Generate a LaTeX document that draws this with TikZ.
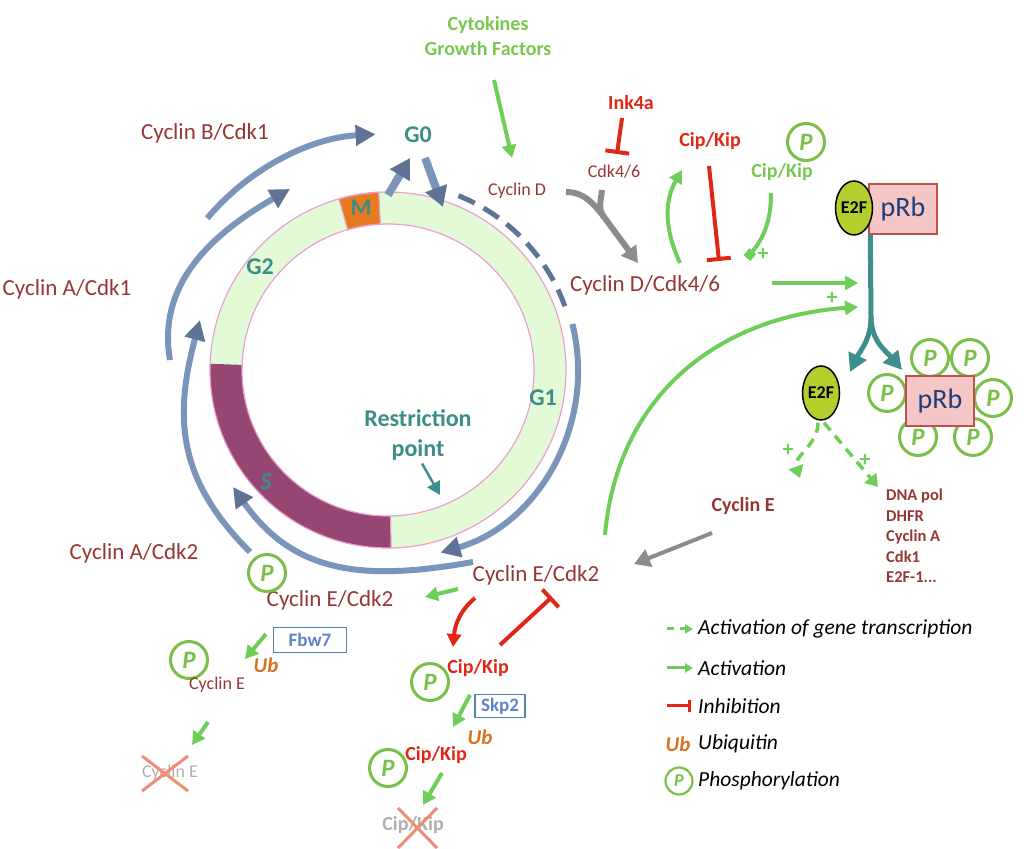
\documentclass[tikz,border=0pt]{standalone}
\usepackage{fontspec}
\setmainfont{Carlito}
\usetikzlibrary{arrows.meta,shapes.geometric,calc,positioning}

\definecolor{cycred}{RGB}{149,55,53}
\definecolor{inhred}{RGB}{226,38,22}
\definecolor{actgreen}{RGB}{110,206,90}
\definecolor{pgreen}{RGB}{122,192,72}
\definecolor{txtgreen}{RGB}{120,200,80}
\definecolor{phteal}{RGB}{60,140,135}
\definecolor{ringgreen}{RGB}{226,250,214}
\definecolor{ringpink}{RGB}{235,160,205}
\definecolor{sphase}{RGB}{150,70,115}
\definecolor{mphase}{RGB}{230,122,30}
\definecolor{arcblue}{RGB}{122,148,186}
\definecolor{arcdark}{RGB}{95,115,150}
\definecolor{stemteal}{RGB}{62,142,142}
\definecolor{cdkgray}{RGB}{140,140,140}
\definecolor{ubor}{RGB}{215,115,30}
\definecolor{boxblue}{RGB}{95,130,200}
\definecolor{boxedge}{RGB}{80,130,170}
\definecolor{prbfill}{RGB}{244,198,198}
\definecolor{prbedge}{RGB}{192,80,77}
\definecolor{prbtext}{RGB}{31,61,122}
\definecolor{e2fgreen}{RGB}{182,205,46}
\definecolor{fadegray}{RGB}{175,175,175}
\definecolor{xsalmon}{RGB}{240,140,115}

\tikzset{
    cyclbl/.style={text=cycred, font=\fontsize{23}{27}\selectfont, inner sep=0pt},
    smalllbl/.style={text=cycred, font=\fontsize{18}{21}\selectfont, inner sep=0pt},
    boldlbl/.style={text=cycred, font=\bfseries\fontsize{20}{24}\selectfont, inner sep=0pt},
    inhlbl/.style={text=inhred, font=\bfseries\fontsize{20}{24}\selectfont, inner sep=0pt},
    greenlbl/.style={text=txtgreen, font=\bfseries\fontsize{20}{25}\selectfont, inner sep=0pt},
    phase/.style={text=phteal, font=\bfseries\fontsize{24}{30}\selectfont, inner sep=0pt},
    ublbl/.style={text=ubor, font=\bfseries\itshape\fontsize{21}{24}\selectfont, inner sep=0pt},
    fadelbl/.style={text=fadegray, font=\fontsize{18}{21}\selectfont, inner sep=0pt},
    legtxt/.style={anchor=west, font=\itshape\fontsize{21.5}{25}\selectfont, inner sep=0pt},
    plus/.style={text=actgreen, font=\bfseries\fontsize{22}{22}\selectfont, inner sep=0pt},
    pcirc/.style={circle, draw=pgreen, line width=3pt, fill=white, minimum size=37pt,
        inner sep=0pt, text=pgreen, font=\bfseries\itshape\fontsize{25}{25}\selectfont},
    e2f/.style={ellipse, draw=black, line width=1.5pt, fill=e2fgreen, minimum width=37pt,
        minimum height=54pt, inner sep=0pt, font=\bfseries\fontsize{18}{18}\selectfont},
    prbbox/.style={rectangle, draw=prbedge, line width=1.5pt, fill=prbfill, minimum width=68pt,
        minimum height=50pt, text=prbtext, font=\fontsize{28}{28}\selectfont},
    ubox/.style={rectangle, draw=boxedge, line width=1.5pt, text=boxblue, inner sep=0pt,
        minimum width=73pt, minimum height=25pt, font=\bfseries\fontsize{19}{19}\selectfont},
    act/.style={draw=actgreen, line width=4pt, -{Triangle[length=13pt,width=14pt]}},
    gene/.style={draw=actgreen, line width=3.5pt, dash pattern=on 10pt off 7pt,
        -{Triangle[length=12pt,width=15pt]}},
    inh/.style={draw=inhred, line width=4pt, -{Bar[width=24pt]}},
    redarrow/.style={draw=inhred, line width=4pt, -{Triangle[length=13pt,width=14pt]}},
    cycarrow/.style={draw=arcblue, line width=6pt, -{Triangle[length=20pt,width=20pt,color=arcdark]}},
    cycthick/.style={draw=arcblue, line width=8pt, -{Triangle[length=20pt,width=22pt,color=arcdark]}},
    cycdash/.style={draw=arcdark, line width=5pt, dash pattern=on 18pt off 10pt},
    stem/.style={draw=stemteal, line width=5pt},
    stemarrow/.style={draw=stemteal, line width=5pt, -{Triangle[length=18pt,width=19pt]}},
    grayline/.style={draw=cdkgray, line width=6pt},
    grayarrow/.style={draw=cdkgray, line width=6pt, -{Triangle[length=16pt,width=18pt]}},
    xmark/.style={draw=xsalmon, line width=3pt},
}

\begin{document}
\begin{tikzpicture}[x=1pt,y=1pt]
    \useasboundingbox (0,0) rectangle (1024,848);

    % cell cycle ring
    \coordinate (C) at (388,478);
    \begin{scope}[shift={(C)}]
        \fill[ringgreen, even odd rule] (0,0) circle (178) (0,0) circle (146);
        \fill[sphase] (178:178) arc[start angle=178, end angle=271, radius=178]
            -- (271:146) arc[start angle=271, end angle=178, radius=146] -- cycle;
        \filldraw[fill=mphase, draw=ringpink, line width=1.2pt] (93:178) arc[start angle=93, end angle=106, radius=178]
            -- (106:146) arc[start angle=106, end angle=93, radius=146] -- cycle;
        \draw[ringpink, line width=1.2pt] (0,0) circle (178) (0,0) circle (146);
        \draw[ringpink, line width=1.2pt] (271:146) -- (271:178);

        \draw[cycdash] (68:188) arc[start angle=68, end angle=19, radius=188];
        \draw[cycarrow] (14:190) arc[start angle=14, end angle=-74, radius=190];
        \draw[cycarrow] (140:236) arc[start angle=140, end angle=93, radius=236];
    \end{scope}

    % phases
    \node[phase] (g0) at (418,713) {G0};
    \node[phase] (g1) at (543,450) {G1};
    \node[phase] (g2) at (260,581) {G2};
    \node[phase, font=\bfseries\itshape\fontsize{24}{30}\selectfont] (sph) at (266,366) {S};
    \node[phase] (mph) at (361,640) {M};
    \node[phase, align=center] (rpoint) at (418,413) {Restriction\\point};
    \coordinate (rptip) at (440,353);
    \draw[stemteal, line width=2.5pt, -{Triangle[length=13pt,width=14pt]}] ($(rpoint.south)+(4,-3)$) -- (rptip);

    % arcs round the ring
    \coordinate (mtop) at (388,653);
    \coordinate (g0in) at (410,690);
    \coordinate (g0out) at (425,690);
    \coordinate (g1top) at (443,641);
    \draw[cycthick] (mtop) -- (g0in);
    \draw[cycthick] (g0out) -- (g1top);

    \coordinate (arcBs) at (170,488);
    \coordinate (arcBe) at (290,659);
    \coordinate (arcCs) at (250,296);
    \coordinate (arcCe) at (200,528);
    \coordinate (arcDs) at (473,286);
    \coordinate (arcDe) at (233,361);
    \draw[cycarrow] (arcBs) to[out=100, in=210] (arcBe);
    \draw[cycarrow] (arcCs) to[out=135, in=255, looseness=1.1] (arcCe);
    \draw[cycarrow] (arcDs) to[out=190, in=-55, looseness=1.1] (arcDe);

    % cyclin labels
    \node[cyclbl] (cycB1) at (205,715) {Cyclin B/Cdk1};
    \node[cyclbl] (cycA1) at (67,559) {Cyclin A/Cdk1};
    \node[cyclbl] (cycA2) at (134,295) {Cyclin A/Cdk2};
    \node[cyclbl] (cycE2) at (536,273) {Cyclin E/Cdk2};
    \node[cyclbl] (cycE2p) at (330,248) {Cyclin E/Cdk2};
    \node[cyclbl] (cycD46) at (645,563) {Cyclin D/Cdk4/6};
    \node[smalllbl] (cycD) at (517,657) {Cyclin D};
    \node[smalllbl] (cdk46) at (614,676) {Cdk4/6};
    \node[inhlbl] (ink4a) at (631,745) {Ink4a};
    \node[inhlbl] (cip1) at (710,707) {Cip/Kip};
    \node[greenlbl] (cip1p) at (782,676) {Cip/Kip};
    \node[pcirc] (p1) at (806,706) {P};
    \node[greenlbl, align=center] (growth) at (488,812) {Cytokines\\Growth Factors};
    \node[boldlbl] (cycEb) at (743,342) {Cyclin E};
    \node[boldlbl, font=\bfseries\fontsize{16.5}{20.5}\selectfont, align=left, anchor=north west] (genes)
        at (886,359) {DNA pol\\DHFR\\Cyclin A\\Cdk1\\E2F-1...};

    % growth signals and Cyclin D
    \coordinate (gfs) at (494,768);
    \coordinate (gfe) at (512,690);
    \draw[act] (gfs) -- (gfe);
    \coordinate (ydL) at (566,656);
    \coordinate (ydR) at (602,658);
    \coordinate (ymerge) at (604,631);
    \coordinate (ytip) at (638,585);
    \draw[grayline] (ydL) to[out=0, in=128] (ymerge);
    \draw[grayline] (ydR) to[out=-95, in=128] (ymerge);
    \draw[grayarrow] (ymerge) -- (ytip);

    \coordinate (inks) at (622,730);
    \coordinate (inke) at (617,694);
    \draw[inh] (inks) -- (inke);
    \coordinate (cips) at (709,682);
    \coordinate (cipe) at (719,587);
    \draw[inh] (cips) -- (cipe);
    \coordinate (gus) at (680,585);
    \coordinate (gue) at (682,678);
    \draw[act] (gus) to[out=115, in=-120] (gue);
    \coordinate (gps) at (771,655);
    \coordinate (gpe) at (747,590);
    \draw[draw=actgreen, line width=4pt, -{Square[length=9pt,width=9pt]}] (gps) to[out=-90, in=50] (gpe);
    \node[plus] (pl1) at (763,594) {+};

    % pRb and E2F
    \node[prbbox] (prbA) at (903,639) {pRb};
    \node[e2f] (e2fA) at (854,640) {E2F};
    \foreach \px/\py [count=\i] in {930/490, 970/490, 887/455, 993/450, 918/411, 973/411}
        \node[pcirc] (pp\i) at (\px,\py) {P};
    \node[prbbox] (prbB) at (940,447) {pRb};
    \node[e2f] (e2fB) at (821,455) {E2F};

    \coordinate (split) at (871,531);
    \coordinate (tipL) at (850,476);
    \coordinate (tipR) at (902,478);
    \draw[stem] ($(prbA.south west)+(2,0)$) -- (split);
    \draw[stemarrow] (split) to[out=-90, in=65] (tipL);
    \draw[stemarrow] (split) to[out=-90, in=130] (tipR);

    \coordinate (a1s) at (772,565);
    \coordinate (a1e) at (858,565);
    \draw[act] (a1s) -- (a1e);
    \coordinate (gcs) at (605,313);
    \coordinate (gce) at (858,541);
    \draw[act] (gcs) to[out=85, in=184, looseness=1.05] (gce);
    \node[plus] (pl2) at (832,550) {+};

    \coordinate (gdL) at (800,370);
    \coordinate (gdR) at (878,361);
    \draw[gene] ($(e2fB.south)+(-3,-2)$) to[out=-90, in=110] (gdL);
    \draw[gene] ($(e2fB.south)+(3,-2)$) -- (gdR);
    \node[plus] (pl3) at (788,398) {+};
    \node[plus] (pl4) at (865,388) {+};

    \coordinate (gys) at (712,315);
    \coordinate (gye) at (634,284);
    \draw[grayarrow, line width=4pt] (gys) -- (gye);

    % Cyclin E/Cdk2 and its targets
    \node[pcirc] (p2) at (267,275) {P};
    \coordinate (e2s) at (458,259);
    \coordinate (e2e) at (425,251);
    \draw[act] (e2s) -- (e2e);
    \node[ubox] (fbw7) at (310,208) {Fbw7};
    \coordinate (fbs) at (266,214);
    \coordinate (fbe) at (245,189);
    \draw[act] (fbs) -- (fbe);
    \node[ublbl] (ub1) at (266,183) {Ub};
    \node[pcirc] (p3) at (189,188) {P};
    \node[smalllbl] (cycEs) at (217,163) {Cyclin E};
    \coordinate (ces) at (208,126);
    \coordinate (cee) at (192,103);
    \draw[act] (ces) -- (cee);
    \node[fadelbl] (cycEx) at (170,75) {Cyclin E};
    \draw[xmark] ($(cycEx)+(-28,17)$) -- ($(cycEx)+(18,-18)$);
    \draw[xmark] ($(cycEx)+(18,17)$) -- ($(cycEx)+(-28,-18)$);

    \coordinate (rcs) at (475,250);
    \coordinate (rce) at (453,201);
    \draw[redarrow] (rcs) to[out=-140, in=85] (rce);
    \coordinate (ris) at (500,203);
    \coordinate (rie) at (552,251);
    \draw[inh] (ris) -- (rie);
    \node[inhlbl] (cip2) at (478,180) {Cip/Kip};
    \node[pcirc] (p4) at (430,166) {P};
    \node[ubox, minimum width=50pt, minimum height=23pt] (skp2) at (500,142) {Skp2};
    \coordinate (sks) at (470,153);
    \coordinate (ske) at (453,121);
    \draw[act] (sks) -- (ske);
    \node[ublbl] (ub2) at (480,111) {Ub};
    \node[inhlbl] (cip3) at (436,93) {Cip/Kip};
    \node[pcirc] (p5) at (388,80) {P};
    \coordinate (cks) at (442,75);
    \coordinate (cke) at (423,43);
    \draw[act] (cks) -- (cke);
    \node[fadelbl, font=\bfseries\fontsize{20}{24}\selectfont] (cipx) at (413,23) {Cip/Kip};
    \draw[xmark] ($(cipx)+(-15,17)$) -- ($(cipx)+(24,-23)$);
    \draw[xmark] ($(cipx)+(24,17)$) -- ($(cipx)+(-15,-23)$);

    % legend
    \coordinate (lg1) at (667,219);
    \coordinate (lg2) at (667,180);
    \coordinate (lg3) at (667,142);
    \draw[gene, line width=3pt, dash pattern=on 7pt off 6pt, -{Triangle[length=8pt,width=9pt]}] (lg1) -- ++(26,0);
    \draw[act, line width=3pt, -{Triangle[length=8pt,width=9pt]}] (lg2) -- ++(26,0);
    \draw[inh, line width=3pt, -{Bar[width=12pt]}] (lg3) -- ++(24,0);
    \node[ublbl] (ubl) at (678,104) {Ub};
    \node[pcirc, minimum size=27pt, line width=2.2pt, font=\bfseries\itshape\fontsize{18}{18}\selectfont] (pl) at (679,67) {P};
    \node[legtxt] (leg1) at (698,219) {Activation of gene transcription};
    \node[legtxt] (leg2) at (698,180) {Activation};
    \node[legtxt] (leg3) at (698,142) {Inhibition};
    \node[legtxt] (leg4) at (698,104) {Ubiquitin};
    \node[legtxt] (leg5) at (698,67) {Phosphorylation};
\end{tikzpicture}
\end{document}
